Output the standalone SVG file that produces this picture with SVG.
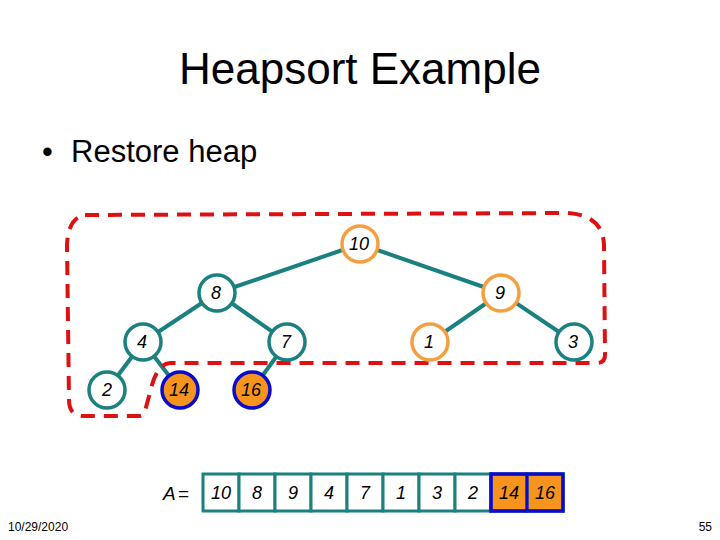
<svg xmlns="http://www.w3.org/2000/svg" width="720" height="540" viewBox="0 0 720 540">
<style>
text{font-family:"Liberation Sans",Arial,sans-serif;fill:#000}
.lbl{font-size:18px;font-style:italic;text-anchor:middle}
.edge{stroke:#1A8080;stroke-width:4;fill:none}
.n circle{stroke-width:3.5}
.teal{stroke:#1A8080;fill:#fff}
.org{stroke:#F4A040;fill:#fff}
.done{stroke:#0A0ACC;fill:#F7941D}
.cell{fill:#fff;stroke:#1A8080;stroke-width:3}
.cellx{fill:#F7941D;stroke:#1A8080;stroke-width:3}
</style>
<rect width="720" height="540" fill="#fff"/>
<text x="360" y="84" font-size="44" text-anchor="middle">Heapsort Example</text>
<text x="42" y="162" font-size="31">•</text>
<text x="71" y="162" font-size="31">Restore heap</text>

<g id="connectors">
<line class="edge" x1="360" y1="244" x2="217" y2="293"/>
<line class="edge" x1="360" y1="244" x2="501" y2="293"/>
<line class="edge" x1="217" y1="293" x2="143" y2="342"/>
<line class="edge" x1="217" y1="293" x2="287" y2="342"/>
<line class="edge" x1="501" y1="293" x2="430" y2="342"/>
<line class="edge" x1="501" y1="293" x2="574" y2="342"/>
<line class="edge" x1="143" y1="342" x2="107" y2="390"/>
<line class="edge" x1="143" y1="342" x2="180" y2="390"/>
<line class="edge" x1="287" y1="342" x2="252" y2="390"/>
</g>

<path d="M 85 215 L 567 213 Q 603 215 604 245 L 605 355 Q 605 363 597 363 L 170 363 Q 158 364 152 385 L 145 411 Q 144 416 138 416 L 82 416 Q 69 415 69 400 L 67 245 Q 68 218 85 215 Z" fill="none" stroke="#DD1111" stroke-width="4" stroke-dasharray="14,9"/>

<g id="n10" class="n"><circle class="org" cx="360" cy="244" r="18"/><text class="lbl" x="359" y="250">10</text></g>
<g id="n8" class="n"><circle class="teal" cx="217" cy="293" r="18"/><text class="lbl" x="216" y="299">8</text></g>
<g id="n9" class="n"><circle class="org" cx="501" cy="293" r="18"/><text class="lbl" x="500" y="299">9</text></g>
<g id="n4" class="n"><circle class="teal" cx="143" cy="342" r="18"/><text class="lbl" x="142" y="348">4</text></g>
<g id="n7" class="n"><circle class="teal" cx="287" cy="342" r="18"/><text class="lbl" x="286" y="348">7</text></g>
<g id="n1" class="n"><circle class="org" cx="430" cy="342" r="18"/><text class="lbl" x="429" y="348">1</text></g>
<g id="n3" class="n"><circle class="teal" cx="574" cy="342" r="18"/><text class="lbl" x="573" y="348">3</text></g>
<g id="n2" class="n"><circle class="teal" cx="107" cy="390" r="18"/><text class="lbl" x="107" y="396" font-style="normal">2</text></g>
<g id="n14" class="n"><circle class="done" cx="180" cy="390" r="18"/><text class="lbl" x="179" y="396">14</text></g>
<g id="n16" class="n"><circle class="done" cx="252" cy="390" r="18"/><text class="lbl" x="251" y="396">16</text></g>

<g id="array">
<text x="163" y="500" font-size="19" font-style="italic">A</text>
<text x="178" y="500" font-size="19">=</text>
<rect class="cell" x="203" y="474" width="36" height="37"/>
<rect class="cell" x="239" y="474" width="36" height="37"/>
<rect class="cell" x="275" y="474" width="36" height="37"/>
<rect class="cell" x="311" y="474" width="36" height="37"/>
<rect class="cell" x="347" y="474" width="36" height="37"/>
<rect class="cell" x="383" y="474" width="36" height="37"/>
<rect class="cell" x="419" y="474" width="36" height="37"/>
<rect class="cell" x="455" y="474" width="36" height="37"/>
<rect class="cellx" x="491" y="474" width="36" height="37"/>
<rect class="cellx" x="527" y="474" width="36" height="37"/>
<rect x="491" y="474" width="72" height="37" fill="none" stroke="#0A0ACC" stroke-width="3.5"/>
<line x1="527" y1="474" x2="527" y2="511" stroke="#0A0ACC" stroke-width="3"/>
<text class="lbl" x="221" y="499">10</text>
<text class="lbl" x="257" y="499">8</text>
<text class="lbl" x="293" y="499">9</text>
<text class="lbl" x="329" y="499">4</text>
<text class="lbl" x="365" y="499">7</text>
<text class="lbl" x="401" y="499">1</text>
<text class="lbl" x="437" y="499">3</text>
<text class="lbl" x="473" y="499">2</text>
<text class="lbl" x="509" y="499">14</text>
<text class="lbl" x="545" y="499">16</text>
</g>

<text x="8" y="531" font-size="12">10/29/2020</text>
<text x="712" y="531" font-size="12" text-anchor="end">55</text>
</svg>
